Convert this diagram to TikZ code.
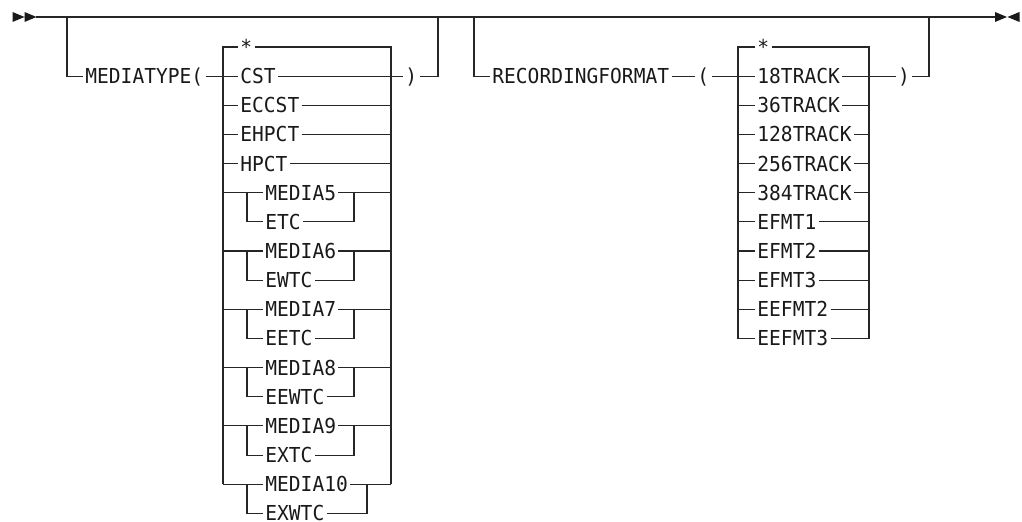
\documentclass[tikz,border=0pt]{standalone}
\usepackage{fontspec}
\newfontfamily\railfont[FakeStretch=0.95]{DejaVu Sans Mono}
\tikzset{
  rail/.style={line width=0.55pt, draw=black!85},
  kw/.style={font=\railfont\fontsize{10.3pt}{12pt}\selectfont, anchor=west, inner xsep=1pt, inner ysep=0pt, text height=7.5pt, text depth=0pt, text=black!90},
  tip/.style={fill=black!90}
}

\begin{document}
\begin{tikzpicture}[x=0.5pt, y=-0.5pt]
  \useasboundingbox (0,0) rectangle (1022,522);
  \fill[tip] (12.5,12) -- (24.5,17) -- (12.5,22) -- cycle (24.5,12) -- (36.5,17) -- (24.5,22) -- cycle;
  \fill[tip] (995,12) -- (1007,17) -- (995,22) -- cycle (1019.5,12) -- (1007.5,17) -- (1019.5,22) -- cycle;
  \draw[rail] (36,17) -- (995,17);
  \draw[rail, line width=1pt] (935,17) -- (958,17);

  \node[kw] (MT) at (83,76.15) {MEDIATYPE(};
  \node[kw] (mstar) at (238,47) {*};
  \node[kw] (CST) at (238,76.15) {CST};
  \node[kw] (rp1) at (403,76.15) {)};
  \draw[rail] (67,17) -- (67,76.15) -- (MT.west) (MT.east) -- (CST.west) (CST.east) -- (rp1.west) (rp1.east) -- (438,76.15) -- (438,17);
  \draw[rail] (mstar.east) -- (391,47) -- (391,484.25) (mstar.west) -- (223,47) -- (223,484.25);
  \foreach \w [count=\i from 2] in {ECCST,EHPCT,HPCT} {
    \node[kw] (m\w) at (238,{47+29.15*\i}) {\w};
    \draw[rail] (223,{47+29.15*\i}) -- (m\w.west) (m\w.east) -- (391,{47+29.15*\i});
  }
  \foreach \a/\b [count=\k from 0] in {MEDIA5/ETC, MEDIA6/EWTC, MEDIA7/EETC, MEDIA8/EEWTC, MEDIA9/EXTC} {
    \pgfmathsetmacro\ya{192.75+58.3*\k}
    \pgfmathsetmacro\yb{\ya+29.15}
    \node[kw] (\a) at (263,\ya) {\a};
    \node[kw] (\b) at (263,\yb) {\b};
    \draw[rail] (223,\ya) -- (\a.west) (\a.east) -- (391,\ya);
    \draw[rail] (247,\ya) -- (247,\yb) -- (\b.west) (\b.east) -- (354,\yb) -- (354,\ya);
  }
  \node[kw] (MEDIA10) at (263,484.25) {MEDIA10};
  \node[kw] (EXWTC) at (263,513.4) {EXWTC};
  \draw[rail] (223,484.25) -- (MEDIA10.west) (MEDIA10.east) -- (391,484.25);
  \draw[rail] (247,484.25) -- (247,513.4) -- (EXWTC.west) (EXWTC.east) -- (367,513.4) -- (367,484.25);

  \node[kw] (RF) at (490,76.15) {RECORDINGFORMAT};
  \node[kw] (lp2) at (695,76.15) {(};
  \node[kw] (rstar) at (755,47) {*};
  \node[kw] (r18) at (755,76.15) {18TRACK};
  \node[kw] (rp2) at (895.6,76.15) {)};
  \draw[rail] (474,17) -- (474,76.15) -- (RF.west) (RF.east) -- (lp2.west) (lp2.east) -- (r18.west) (r18.east) -- (rp2.west) (rp2.east) -- (929,76.15) -- (929,17);
  \foreach \w [count=\i from 2] in {36TRACK,128TRACK,256TRACK,384TRACK,EFMT1,EFMT2,EFMT3,EEFMT2} {
    \node[kw] (r\w) at (755,{47+29.15*\i}) {\w};
    \draw[rail] (738,{47+29.15*\i}) -- (r\w.west) (r\w.east) -- (869,{47+29.15*\i});
  }
  \node[kw] (rEEFMT3) at (755,338.5) {EEFMT3};
  \draw[rail] (rstar.west) -- (738,47) -- (738,338.5) -- (rEEFMT3.west) (rstar.east) -- (869,47) -- (869,338.5) -- (rEEFMT3.east);
\end{tikzpicture}
\end{document}
